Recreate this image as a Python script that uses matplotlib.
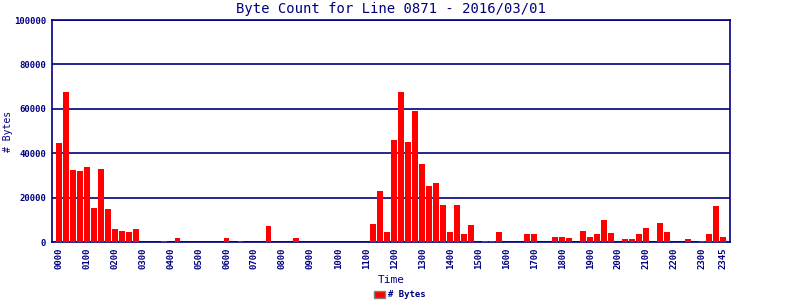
import matplotlib
matplotlib.use("Agg")
import matplotlib.pyplot as plt
import numpy as np

# 15-minute slots, 0000 .. 2345
slots = ["%02d%02d" % (h, m) for h in range(24) for m in (0, 15, 30, 45)]

byte_counts = [
    44500, 67500, 32400, 32000, 33800, 15300, 32900, 14900,   # 0000-0145
    5900, 5000, 4600, 5900, 0, 0, 0, 500,                     # 0200-0345
    0, 2000, 0, 0, 0, 0, 0, 0,                                # 0400-0545
    2000, 0, 500, 0, 0, 0, 7200, 0,                           # 0600-0745
    0, 0, 2000, 0, 0, 0, 0, 0,                                # 0800-0945
    0, 0, 0, 0, 0, 8100, 23000, 4500,                         # 1000-1145
    46000, 67500, 45000, 59000, 35000, 25200, 26600, 16600,   # 1200-1345
    4500, 16600, 3600, 7600, 0, 600, 600, 4500,               # 1400-1545
    0, 0, 0, 3600, 3600, 0, 0, 2300,                          # 1600-1745
    2300, 1800, 0, 5000, 2300, 3600, 9900, 4100,              # 1800-1945
    0, 1400, 1400, 3600, 6300, 0, 8600, 4500,                 # 2000-2145
    0, 0, 1400, 0, 500, 3600, 16200, 2300,                    # 2200-2345
]

tick_labels = ["%02d00" % h for h in range(24)] + ["2345"]
tick_pos = [slots.index(t) for t in tick_labels]

navy = "#000080"
mono = "DejaVu Sans Mono"

fig = plt.figure(figsize=(8, 3), dpi=100)
ax = fig.add_axes([0.0646, 0.1933, 0.8479, 0.74])

x = np.arange(len(slots))
ax.bar(x, byte_counts, width=0.84, color="#ff0000", label="# Bytes", zorder=3)

ax.set_xlim(-1, 96)
ax.set_ylim(0, 100000)
ax.set_yticks(range(0, 100001, 20000))
ax.set_yticklabels([str(v) for v in range(0, 100001, 20000)],
                   fontsize=6.5, fontweight="bold", family=mono, color=navy)
ax.set_xticks(tick_pos)
ax.set_xticklabels(tick_labels, rotation=90, fontsize=6.5, family=mono,
                   fontweight="bold", color=navy)
ax.tick_params(axis="both", length=0, pad=4)

ax.grid(axis="y", color=navy, linewidth=1.2, zorder=1)
for s in ax.spines.values():
    s.set_color(navy)
    s.set_linewidth(1.2)

ax.set_title("Byte Count for Line 0871 - 2016/03/01", fontsize=10, family=mono,
             color=navy, pad=5)
ax.set_xlabel("Time", fontsize=8, family=mono, color=navy, labelpad=4)
ax.set_ylabel("# Bytes", fontsize=7, family=mono, color=navy, va="center")
ax.yaxis.set_label_coords(-0.0644, 0.5)

handle = plt.Rectangle((0, 0), 1, 1, facecolor="#ff0000", edgecolor="#808080", linewidth=1)
fig.legend([handle], ["# Bytes"], loc="center", bbox_to_anchor=(0.5, 0.017),
           frameon=False, prop={"family": mono, "size": 6.5, "weight": "bold"},
           labelcolor=navy, handlelength=1.2, handleheight=0.9, handletextpad=0.3)

fig.savefig("out.png", dpi=100)
